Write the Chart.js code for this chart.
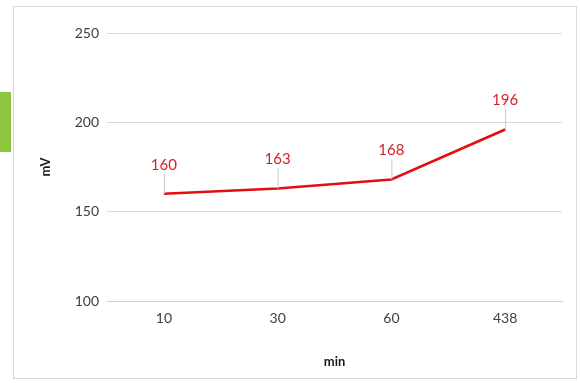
<!DOCTYPE html>
<html>
<head>
<meta charset="utf-8">
<script src="https://cdn.jsdelivr.net/npm/chart.js@4/dist/chart.umd.min.js"></script>
<style>
  html, body { margin: 0; padding: 0; background: #fff; }
  #tab { position: absolute; left: 0; top: 92px; width: 11px; height: 60px; background: #8cc63f; }
  #frame { position: absolute; left: 13px; top: 6px; width: 562px; height: 371px; border: 1px solid #d9d9d9; background: #fff; }
  canvas { display: block; }
</style>
</head>
<body>
<div id="tab"></div>
<div id="frame"><canvas id="c" width="562" height="371"></canvas></div>
<script>
// Elapsed time (min) and measured potential (mV)
const timeLabels = ['10', '30', '60', '438'];
const potential = [160, 163, 168, 196];
const yTicks = [100, 150, 200, 250];

const FONT = 'Lato, "Open Sans", sans-serif';

// Value labels above each point, tied to it by a thin leader line
const valueLabels = {
  id: 'valueLabels',
  afterDatasetsDraw(chart) {
    const ctx = chart.ctx;
    const meta = chart.getDatasetMeta(0);
    ctx.save();
    meta.data.forEach((pt, i) => {
      const ly = pt.y - 29;
      ctx.strokeStyle = '#c8c8c8';
      ctx.lineWidth = 1;
      ctx.beginPath();
      ctx.moveTo(pt.x + 0.5, ly + 9);
      ctx.lineTo(pt.x + 0.5, pt.y);
      ctx.stroke();
      ctx.fillStyle = '#d02525';
      ctx.font = '15px ' + FONT;
      ctx.textAlign = 'center';
      ctx.textBaseline = 'middle';
      ctx.fillText(String(potential[i]), pt.x, ly);
    });
    ctx.restore();
  }
};

new Chart(document.getElementById('c'), {
  type: 'line',
  data: {
    labels: timeLabels,
    datasets: [{
      data: potential,
      borderColor: '#e30f0f',
      borderWidth: 2.6,
      pointRadius: 0,
      tension: 0,
      fill: false
    }]
  },
  options: {
    responsive: false,
    animation: false,
    events: [],
    layout: { padding: { left: 20, right: 14, top: 26, bottom: 8 } },
    plugins: { legend: { display: false }, tooltip: { enabled: false } },
    scales: {
      x: {
        offset: true,
        grid: { display: false, drawTicks: false },
        border: { display: true, color: '#d0d0d0', width: 1 },
        ticks: { color: '#404040', font: { family: FONT, size: 14 }, padding: 9 },
        title: { display: true, text: 'min', color: '#1a1a1a', font: { family: FONT, size: 13, weight: 'bold' }, padding: { top: 0, bottom: 0 } },
        afterFit(s) { s.height = 69; }
      },
      y: {
        min: 100, max: 250,
        afterBuildTicks(s) { s.ticks = yTicks.map(v => ({ value: v })); },
        grid: { color: '#d9d9d9', drawTicks: false },
        border: { display: false },
        ticks: { color: '#404040', font: { family: FONT, size: 14 }, padding: 8 },
        title: { display: true, text: 'mV', color: '#1a1a1a', font: { family: FONT, size: 13, weight: 'bold' }, padding: { top: 4, bottom: 0 } },
        afterFit(s) { s.width = 73; }
      }
    }
  },
  plugins: [valueLabels]
});
</script>
</body>
</html>
